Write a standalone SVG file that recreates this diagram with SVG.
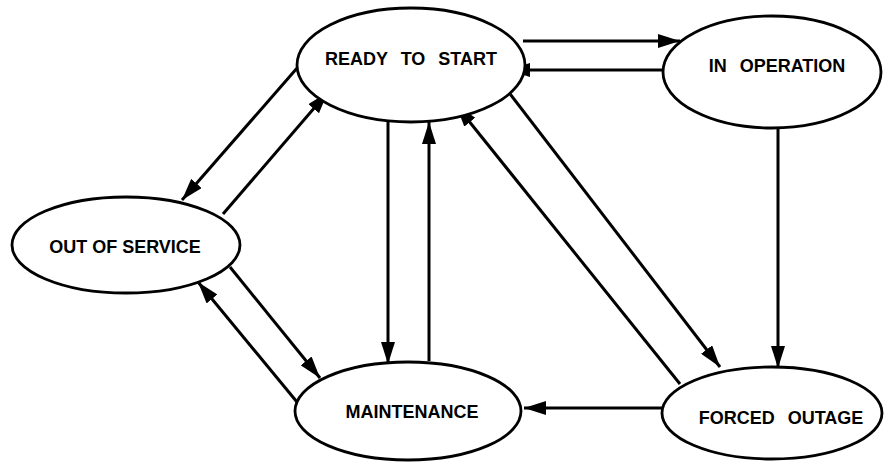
<svg xmlns="http://www.w3.org/2000/svg" width="884" height="462" viewBox="0 0 884 462">
<style>
.node ellipse{fill:#fff;stroke:#000;stroke-width:2.8}
.node text{font-family:"Liberation Sans",Arial,sans-serif;font-weight:bold;font-size:18px;text-anchor:middle;fill:#000}
.wide{word-spacing:8px}
.edges line{stroke:#000;stroke-width:3;marker-end:url(#ah)}
</style>
<defs>
<marker id="ah" viewBox="0 0 22 14" refX="22" refY="7" markerWidth="22" markerHeight="14" markerUnits="userSpaceOnUse" orient="auto">
<path d="M0,0 L22,7 L0,14 Z" fill="#000"/>
</marker>
</defs>
<g class="edges">
<line x1="523" y1="41" x2="680" y2="41"/>
<line x1="663" y1="70" x2="508" y2="70"/>
<line x1="778" y1="128" x2="778" y2="368"/>
<line x1="507" y1="90" x2="720" y2="367"/>
<line x1="680" y1="384" x2="456" y2="105"/>
<line x1="663" y1="408" x2="524" y2="408"/>
<line x1="388" y1="122" x2="388" y2="364"/>
<line x1="429" y1="361" x2="429" y2="122"/>
<line x1="298" y1="67" x2="182" y2="200"/>
<line x1="223" y1="214" x2="328" y2="92"/>
<line x1="230" y1="267" x2="320" y2="378"/>
<line x1="297" y1="402" x2="198" y2="282"/>
</g>
<g id="ready" class="node">
<ellipse cx="411" cy="65" rx="114" ry="57"/>
<text x="411" y="65" class="wide">READY TO START</text>
</g>
<g id="inop" class="node">
<ellipse cx="772" cy="72" rx="109" ry="56"/>
<text x="777" y="72" class="wide">IN OPERATION</text>
</g>
<g id="oos" class="node">
<ellipse cx="126" cy="245" rx="114" ry="48"/>
<text x="125" y="253">OUT OF SERVICE</text>
</g>
<g id="maint" class="node">
<ellipse cx="408" cy="411" rx="113" ry="49"/>
<text x="412" y="418">MAINTENANCE</text>
</g>
<g id="fo" class="node">
<ellipse cx="772" cy="413" rx="110" ry="46"/>
<text x="781" y="424" class="wide">FORCED OUTAGE</text>
</g>
</svg>
